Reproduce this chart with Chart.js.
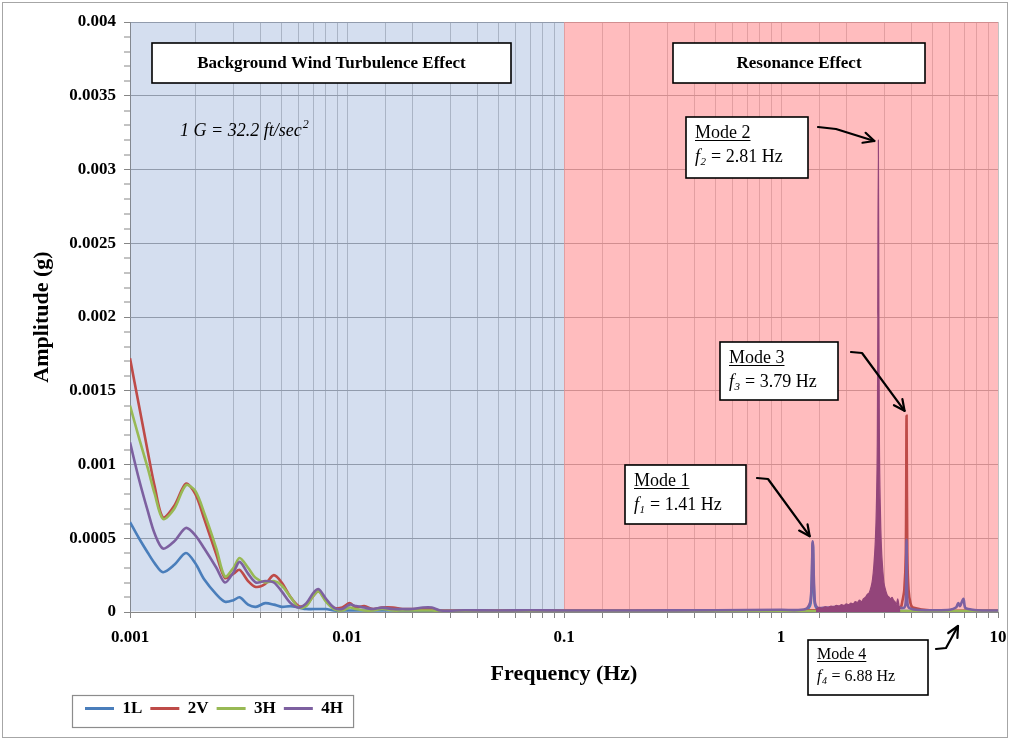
<!DOCTYPE html>
<html><head><meta charset="utf-8">
<script src="https://cdn.jsdelivr.net/npm/chart.js@4.4.1/dist/chart.umd.min.js"></script>
<style>
html,body{margin:0;padding:0;background:#fff;}
#wrap{position:relative;width:1013px;height:740px;overflow:hidden;}
#frame{position:absolute;left:2px;top:2px;width:1004px;height:734px;border:1px solid #a6a6a6;pointer-events:none;}
canvas{position:absolute;left:0;top:0;}
</style></head><body>
<div id="wrap"><canvas id="c" width="1013" height="740"></canvas><div id="frame"></div></div>
<script>
const SERIF = "'Liberation Serif','Times New Roman',serif";

const seriesNames = ['1L', '2V', '3H', '4H'];
const seriesColors = ['#4A7EBB', '#BE4B48', '#98B954', '#7D60A0'];
const xTickLabels = ['0.001', '0.01', '0.1', '1', '10'];
const yTickLabels = ['0', '0.0005', '0.001', '0.0015', '0.002', '0.0025', '0.003', '0.0035', '0.004'];
const regionBounds = [0.001, 0.1, 10];
const regionLabels = ['Background Wind Turbulence Effect', 'Resonance Effect'];
const modeNames = ['Mode 1', 'Mode 2', 'Mode 3', 'Mode 4'];
const modeFreqs = [1.41, 2.81, 3.79, 6.88];

// low-frequency part (Hz), shared by all series
const lowFreq = [0.001, 0.0011, 0.00121, 0.0013, 0.00142, 0.0016, 0.00181, 0.002, 0.0022, 0.0025,
  0.00274, 0.003, 0.0032, 0.0035, 0.0038, 0.0042, 0.0046, 0.005, 0.0055, 0.006,
  0.0065, 0.007, 0.0074, 0.008, 0.0087, 0.0095, 0.0103, 0.011, 0.012, 0.0132,
  0.0145, 0.0163, 0.018, 0.02, 0.0224, 0.0246, 0.027, 0.035, 0.05, 0.07, 0.1];
const low1L = [0.00061, 0.0005, 0.0004, 0.00033, 0.00027, 0.00032, 0.0004, 0.00033, 0.00022, 0.00012,
  0.00007, 0.00008, 0.0001, 0.00005, 0.000035, 0.00006, 0.00005, 0.000035, 0.00004, 0.00003,
  0.00002, 0.00002, 0.00002, 0.00002, 0.00001, 0.00001, 0.00001, 0.00001, 0.00001, 0.00001,
  0.00001, 0.00001, 0.000008, 0.000008, 0.000008, 0.000006, 0.000006, 0.000005, 0.000005, 0.000005, 0.000005];
const low2V = [0.00172, 0.0014, 0.00108, 0.00085, 0.00064, 0.00072, 0.00087, 0.0008, 0.00063, 0.00039,
  0.00023, 0.00026, 0.000285, 0.00021, 0.00017, 0.00019, 0.00025, 0.0002, 0.0001, 0.00004,
  0.00005, 0.00011, 0.00014, 0.00008, 0.00003, 0.00003, 0.00006, 0.00003, 0.00004, 0.00002,
  0.00003, 0.00003, 0.00002, 0.00002, 0.00002, 0.00002, 0.00001, 0.00001, 0.00001, 0.00001, 0.00001];
const low3H = [0.0014, 0.00118, 0.00097, 0.0008, 0.00063, 0.0007, 0.00086, 0.00082, 0.00067, 0.00043,
  0.00024, 0.0003, 0.000366, 0.0003, 0.00023, 0.0002, 0.00021, 0.00018, 0.0001, 0.00003,
  0.00004, 0.00011, 0.00014, 0.00007, 0.00002, 0.00001, 0.00003, 0.00002, 0.00001, 0.00001,
  0.00002, 0.00001, 0.00001, 0.00001, 0.00001, 0.00001, 0.000006, 0.000006, 0.000006, 0.000006, 0.000006];
const low4H = [0.00115, 0.0009, 0.00068, 0.00053, 0.00043, 0.00048, 0.00057, 0.00052, 0.00043, 0.0003,
  0.0002, 0.00027, 0.00034, 0.00026, 0.0002, 0.00021, 0.0002, 0.00014, 0.00006, 0.00003,
  0.00006, 0.00013, 0.000155, 0.00009, 0.00003, 0.00002, 0.00005, 0.00004, 0.00003, 0.00002,
  0.00003, 0.00002, 0.00002, 0.00002, 0.00003, 0.00003, 0.00001, 0.000012, 0.00001, 0.000012, 0.00001];

// resonance part (Hz)
const resFreq1L = [0.2, 0.5, 1.0, 1.3, 1.37, 1.4, 1.43, 1.5, 2.0, 3.0, 5.0, 10];
const resAmp1L  = [0.000005, 0.000005, 0.000006, 0.00001, 0.00006, 0.00047, 0.00006, 0.00001, 0.000008, 0.000008, 0.000005, 0.000005];
const resFreq2V = [0.2, 0.5, 1.0, 1.5, 2.0, 2.5, 2.81, 3.2, 3.55, 3.62, 3.7, 3.76, 3.79, 3.82, 3.87, 3.95, 4.05, 5.0, 10];
const resAmp2V  = [0.00001, 0.00001, 0.00001, 0.000012, 0.000015, 0.00002, 0.00003, 0.00002, 0.00003, 0.00007, 0.00015, 0.0004, 0.00133, 0.0004, 0.00015, 0.00006, 0.00003, 0.00001, 0.00001];
const resFreq3H = [0.2, 1.0, 2.0, 2.7, 2.81, 2.9, 4.0, 10];
const resAmp3H  = [0.000006, 0.000006, 0.000006, 0.00001, 0.00002, 0.00001, 0.000006, 0.000006];
const resFreq4H = [0.2, 0.5, 1.0, 1.3, 1.37, 1.4, 1.43, 1.47, 1.6, 2.0, 2.4, 3.5, 3.7, 3.76, 3.79, 3.82, 3.88, 4.2, 5.0, 6.0, 6.4, 6.56, 6.68, 6.93, 7.05, 7.3, 8.0, 10];
const resAmp4H  = [0.00001, 0.000012, 0.000015, 0.00002, 0.00008, 0.00048, 0.00008, 0.00003, 0.00003, 0.00004, 0.00005, 0.00003, 0.00003, 0.00008, 0.00049, 0.00008, 0.00003, 0.000015, 0.000012, 0.000015, 0.00003, 0.00006, 0.00004, 0.00009, 0.00003, 0.00002, 0.000012, 0.00001];

// dense 4H/2V response around mode 2 (drawn as filled band)
const bandFreq = [1.45, 1.5, 1.55, 1.6, 1.65, 1.7, 1.75, 1.8, 1.85, 1.9,
  1.95, 2.0, 2.05, 2.1, 2.15, 2.2, 2.25, 2.3, 2.35, 2.4,
  2.45, 2.5, 2.55, 2.6, 2.64, 2.68, 2.72, 2.75, 2.78, 2.795,
  2.81, 2.825, 2.84, 2.87, 2.9, 2.94, 2.98, 3.02, 3.06, 3.1,
  3.15, 3.2, 3.25, 3.3, 3.35, 3.4, 3.45, 3.5, 3.55];
const bandAmp = [0.00002, 0.00003, 0.000025, 0.000035, 0.00003, 0.00004, 0.000035, 0.000045, 0.00004, 0.00005,
  0.000045, 0.000055, 0.00005, 0.00006, 0.000055, 0.00007, 0.000065, 0.00008, 0.00007, 0.00009,
  0.0001, 0.00012, 0.00013, 0.00017, 0.00022, 0.00032, 0.00048, 0.0007, 0.0012, 0.002,
  0.0032, 0.002, 0.0012, 0.0007, 0.00045, 0.0003, 0.0002, 0.00016, 0.00013, 0.00011,
  0.0001, 0.00009, 0.0001, 0.00008, 0.00007, 0.00005, 0.00009, 0.00004, 0.00002];

function pts(fs, as) { return fs.map((f, i) => ({ x: f, y: as[i] })); }

const lowSets = [low1L, low2V, low3H, low4H];
const resF = [resFreq1L, resFreq2V, resFreq3H, resFreq4H];
const resA = [resAmp1L, resAmp2V, resAmp3H, resAmp4H];

const datasets = seriesNames.map((name, i) => ({
  label: name,
  data: pts(lowFreq.concat(resF[i]), lowSets[i].concat(resA[i])),
  borderColor: seriesColors[i],
  backgroundColor: seriesColors[i],
  borderWidth: 2.6,
  pointRadius: 0,
  fill: false,
  tension: 0.3,
  order: 4 - i
}));
datasets.push({
  label: '4H band',
  data: pts(bandFreq, bandAmp),
  borderColor: '#93457A',
  backgroundColor: '#93457A',
  borderWidth: 1.2,
  pointRadius: 0,
  fill: 'origin',
  cubicInterpolationMode: 'monotone',
  order: 0
});

function arrow(ctx, p) {
  ctx.beginPath();
  ctx.moveTo(p[0][0], p[0][1]);
  for (let i = 1; i < p.length; i++) ctx.lineTo(p[i][0], p[i][1]);
  ctx.stroke();
  const [x1, y1] = p[p.length - 2], [x2, y2] = p[p.length - 1];
  const a = Math.atan2(y2 - y1, x2 - x1), L = 12, s = 0.45;
  ctx.beginPath();
  ctx.moveTo(x2 - L * Math.cos(a - s), y2 - L * Math.sin(a - s));
  ctx.lineTo(x2, y2);
  ctx.lineTo(x2 - L * Math.cos(a + s), y2 - L * Math.sin(a + s));
  ctx.stroke();
}

function modeBox(ctx, bx, by, bw, bh, idx, size) {
  ctx.fillStyle = '#fff';
  ctx.fillRect(bx, by, bw, bh);
  ctx.strokeStyle = '#000'; ctx.lineWidth = 1.6;
  ctx.strokeRect(bx, by, bw, bh);
  const tx = bx + 9;
  const y1 = by + size + 3, y2 = by + 2 * size + 9;
  ctx.fillStyle = '#000';
  ctx.textAlign = 'left'; ctx.textBaseline = 'alphabetic';
  ctx.font = size + 'px ' + SERIF;
  ctx.fillText(modeNames[idx], tx, y1);
  const w0 = ctx.measureText(modeNames[idx]).width;
  ctx.lineWidth = 1;
  ctx.beginPath(); ctx.moveTo(tx, y1 + 2.5); ctx.lineTo(tx + w0, y1 + 2.5); ctx.stroke();
  ctx.font = 'italic ' + size + 'px ' + SERIF;
  ctx.fillText('f', tx, y2);
  let w = ctx.measureText('f').width + 0.5;
  const sub = Math.round(size * 0.62);
  ctx.font = 'italic ' + sub + 'px ' + SERIF;
  ctx.fillText(String(idx + 1), tx + w, y2 + size * 0.18);
  w += ctx.measureText(String(idx + 1)).width + 0.5;
  ctx.font = size + 'px ' + SERIF;
  ctx.fillText(' = ' + modeFreqs[idx].toFixed(2) + ' Hz', tx + w, y2);
}

const regionPlugin = {
  id: 'regions',
  beforeDatasetsDraw(chart) {
    const { ctx, chartArea: a, scales: { x } } = chart;
    const x0 = x.getPixelForValue(regionBounds[0]);
    const xb = x.getPixelForValue(regionBounds[1]);
    const x1 = x.getPixelForValue(regionBounds[2]);
    ctx.save();
    ctx.fillStyle = 'rgba(112,145,202,0.30)';
    ctx.fillRect(x0 + 0.5, a.top, xb - x0 - 0.5, a.bottom - a.top - 0.5);
    ctx.fillStyle = 'rgba(255,126,130,0.52)';
    ctx.fillRect(xb, a.top, x1 - xb, a.bottom - a.top - 0.5);
    ctx.restore();
  }
};

const annotPlugin = {
  id: 'annots',
  afterDatasetsDraw(chart) {
    const ctx = chart.ctx;
    const xs = chart.scales.x, ys = chart.scales.y;
    ctx.save();
    const rboxes = [[152, 43, 359, 40], [673, 43, 252, 40]];
    rboxes.forEach((b, i) => {
      ctx.fillStyle = '#fff'; ctx.fillRect(b[0], b[1], b[2], b[3]);
      ctx.strokeStyle = '#000'; ctx.lineWidth = 1.6; ctx.strokeRect(b[0], b[1], b[2], b[3]);
      ctx.fillStyle = '#000';
      ctx.font = 'bold 17px ' + SERIF;
      ctx.textAlign = 'center'; ctx.textBaseline = 'middle';
      ctx.fillText(regionLabels[i], b[0] + b[2] / 2, b[1] + b[3] / 2 + 1);
    });
    ctx.textAlign = 'left'; ctx.textBaseline = 'alphabetic';
    ctx.font = 'italic 18px ' + SERIF;
    const gTxt = '1 G = 32.2 ft/sec';
    ctx.fillText(gTxt, 180, 136);
    const gw = ctx.measureText(gTxt).width;
    ctx.font = 'italic 12px ' + SERIF;
    ctx.fillText('2', 180 + gw + 1, 128);

    modeBox(ctx, 625, 465, 121, 59, 0, 18);
    modeBox(ctx, 686, 117, 122, 61, 1, 18);
    modeBox(ctx, 720, 342, 118, 58, 2, 18);
    modeBox(ctx, 808, 640, 120, 55, 3, 16);

    ctx.strokeStyle = '#000'; ctx.lineWidth = 2.2; ctx.lineCap = 'round'; ctx.lineJoin = 'round';
    const px = f => xs.getPixelForValue(f);
    const py = v => ys.getPixelForValue(v);
    arrow(ctx, [[757, 478], [768, 479], [px(1.4) - 3, py(0.00048) - 5]]);
    arrow(ctx, [[818, 127], [836, 129], [px(2.81) - 4, py(0.0032) + 1]]);
    arrow(ctx, [[851, 352], [862, 353], [px(3.79) - 2, py(0.00133) - 5]]);
    arrow(ctx, [[936, 649], [946, 648], [958, 626]]);
    ctx.restore();
  }
};

const legendPlugin = {
  id: 'legendBox',
  afterLayout(chart) {
    const lg = chart.legend;
    if (lg) lg.left = 77;
  },
  afterDraw(chart) {
    const lg = chart.legend;
    if (!lg) return;
    const ctx = chart.ctx;
    const x0 = 72;
    const x1 = lg.left + lg.lineWidths[0] + 10;
    ctx.save();
    ctx.strokeStyle = '#8c8c8c'; ctx.lineWidth = 1.2;
    ctx.strokeRect(x0 + 0.5, 695.5, x1 - x0, 32);
    ctx.restore();
  }
};

new Chart(document.getElementById('c'), {
  type: 'line',
  data: { datasets },
  plugins: [regionPlugin, annotPlugin, legendPlugin],
  options: {
    responsive: false,
    animation: false,
    events: [],
    layout: { padding: { left: 0, right: 15, top: 22, bottom: 13 } },
    plugins: {
      tooltip: { enabled: false },
      legend: {
        display: true,
        position: 'bottom',
        align: 'start',
        labels: {
          boxWidth: 29, boxHeight: 3, padding: 8, color: '#000',
          font: { family: SERIF, size: 17, weight: 'bold' },
          generateLabels(chart) {
            const items = Chart.defaults.plugins.legend.labels.generateLabels(chart);
            return items.filter(it => it.datasetIndex < 4)
              .sort((a, b) => a.datasetIndex - b.datasetIndex)
              .map(it => Object.assign({}, it, { lineWidth: 0 }));
          }
        }
      }
    },
    scales: {
      x: {
        type: 'logarithmic',
        min: 0.001, max: 10,
        border: { color: '#868686', width: 1 },
        grid: { color: '#C3C3C3', lineWidth: 1, tickLength: 6, tickColor: '#868686' },
        ticks: {
          autoSkip: false, maxRotation: 0, minRotation: 0, padding: 9, color: '#000',
          font: { family: SERIF, size: 17, weight: 'bold' },
          callback: (v) => {
            const e = Math.log10(v), r = Math.round(e);
            if (Math.abs(e - r) < 1e-6) return xTickLabels[r + 3] ?? '';
            return '';
          }
        },
        title: { display: true, text: 'Frequency (Hz)', color: '#000',
          font: { family: SERIF, size: 22, weight: 'bold' }, padding: { top: 0, bottom: 4 } },
        afterFit: (s) => { s.height = 80; s.paddingLeft = 0; s.paddingRight = 0; }
      },
      y: {
        type: 'linear',
        min: 0, max: 0.004,
        border: { color: '#868686', width: 1 },
        grid: {
          color: (c) => (Math.round(c.tick.value * 10000) % 5 === 0 ? '#A0A0A0' : 'rgba(0,0,0,0)'),
          lineWidth: (c) => (Math.round(c.tick.value * 10000) % 5 === 0 ? 1 : 0),
          tickColor: '#868686', tickWidth: 1, tickLength: 6
        },
        ticks: {
          stepSize: 0.0001, autoSkip: false, padding: 8, color: '#000',
          font: { family: SERIF, size: 17, weight: 'bold' },
          callback: (v) => {
            const k = Math.round(v * 10000);
            return k % 5 === 0 ? yTickLabels[k / 5] : '';
          }
        },
        title: { display: true, text: 'Amplitude (g)', color: '#000',
          font: { family: SERIF, size: 22, weight: 'bold' }, padding: { top: 29, bottom: 0 } },
        afterFit: (s) => { s.width = 130; s.paddingTop = 0; s.paddingBottom = 0; }
      }
    }
  }
});
</script>
</body></html>
